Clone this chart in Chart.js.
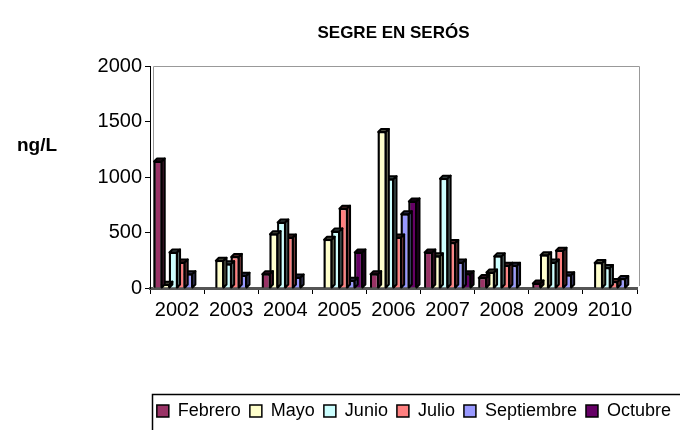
<!DOCTYPE html>
<html>
<head>
<meta charset="utf-8">
<script src="https://cdn.jsdelivr.net/npm/chart.js@4/dist/chart.umd.min.js"></script>
<style>
    html, body { margin: 0; padding: 0; background: #fff; }
    #wrap { width: 680px; height: 430px; }
</style>
</head>
<body>
<div id="wrap"><canvas id="segreChart"></canvas></div>
<script>
const years = ['2002', '2003', '2004', '2005', '2006', '2007', '2008', '2009', '2010'];
const febrero = [1140, 0, 125, 0, 125, 320, 90, 40, 5];
const mayo = [30, 245, 485, 435, 1405, 285, 140, 295, 225];
const junio = [320, 215, 590, 510, 980, 985, 285, 230, 180];
const julio = [230, 280, 455, 715, 455, 405, 200, 335, 55];
const septiembre = [125, 110, 95, 65, 665, 230, 200, 115, 80];
const octubre = [0, 0, 0, 320, 780, 125, 0, 0, 0];
const yTicks = [0, 500, 1000, 1500, 2000];

const FONT = "'Liberation Sans', Arial, sans-serif";
const DEPTH = 3;

function shade(hex, f) {
    const n = parseInt(hex.slice(1), 16);
    const r = Math.round(((n >> 16) & 255) * f);
    const g = Math.round(((n >> 8) & 255) * f);
    const b = Math.round((n & 255) * f);
    return 'rgb(' + r + ',' + g + ',' + b + ')';
}

function serie(label, data, color) {
    return {
        label: label,
        data: data,
        backgroundColor: color,
        borderColor: '#000',
        borderWidth: 1.5,
        borderSkipped: 'bottom',
        categoryPercentage: 0.85,
        barPercentage: 1
    };
}

// 3D look: top and side faces after each dataset
const depthPlugin = {
    id: 'depth',
    afterDatasetDraw(chart, args) {
        const ctx = chart.ctx;
        const color = chart.data.datasets[args.index].backgroundColor;
        ctx.save();
        ctx.lineWidth = 2;
        ctx.strokeStyle = '#000';
        ctx.lineJoin = 'round';
        args.meta.data.forEach(bar => {
            const p = bar.getProps(['x', 'y', 'base', 'width'], true);
            if (p.base - p.y < 1) return;
            const l = p.x - p.width / 2, r = p.x + p.width / 2;
            ctx.beginPath();
            ctx.moveTo(l, p.y);
            ctx.lineTo(l + DEPTH, p.y - DEPTH);
            ctx.lineTo(r + DEPTH, p.y - DEPTH);
            ctx.lineTo(r, p.y);
            ctx.closePath();
            ctx.fillStyle = shade(color, 0.3);
            ctx.fill();
            ctx.stroke();
            ctx.beginPath();
            ctx.moveTo(r, p.y);
            ctx.lineTo(r + DEPTH, p.y - DEPTH);
            ctx.lineTo(r + DEPTH, p.base - DEPTH);
            ctx.lineTo(r, p.base);
            ctx.closePath();
            ctx.fillStyle = shade(color, 0.45);
            ctx.fill();
            ctx.stroke();
            // left edge a bit heavier, like the original
            ctx.beginPath();
            ctx.moveTo(l + 0.5, p.base);
            ctx.lineTo(l + 0.5, p.y);
            ctx.stroke();
        });
        ctx.restore();
    }
};

// back wall, titles and legend frame
const framePlugin = {
    id: 'frame',
    beforeDatasetsDraw(chart) {
        const ctx = chart.ctx, a = chart.chartArea;
        ctx.save();
        ctx.strokeStyle = '#999';
        ctx.lineWidth = 1;
        ctx.beginPath();
        ctx.moveTo(a.left + 3.5, a.bottom);
        ctx.lineTo(a.left + 3.5, a.top + 0.5);
        ctx.lineTo(a.right + 2.5, a.top + 0.5);
        ctx.lineTo(a.right + 2.5, a.bottom - 2);
        ctx.stroke();
        ctx.restore();
    },
    afterDraw(chart) {
        const ctx = chart.ctx, a = chart.chartArea;
        ctx.save();
        ctx.fillStyle = '#000';
        ctx.textAlign = 'center';
        ctx.textBaseline = 'middle';
        ctx.font = 'bold 17px ' + FONT;
        ctx.fillText('SEGRE EN SERÓS', (a.left + a.right) / 2, 33);
        ctx.font = 'bold 19px ' + FONT;
        ctx.fillText('ng/L', 37, 146);

        const lg = chart.legend;
        if (lg && lg.legendHitBoxes && lg.legendHitBoxes.length) {
            const x0 = Math.round(lg.legendHitBoxes[0].left) - 4.5;
            const y0 = Math.round(lg.top) + 1.5;
            ctx.strokeStyle = '#000';
            ctx.lineWidth = 1.5;
            ctx.beginPath();
            ctx.moveTo(x0, chart.height);
            ctx.lineTo(x0, y0);
            ctx.lineTo(chart.width, y0);
            ctx.stroke();
        }
        ctx.restore();
    }
};

new Chart(document.getElementById('segreChart'), {
    type: 'bar',
    data: {
        labels: years,
        datasets: [
            serie('Febrero', febrero, '#993366'),
            serie('Mayo', mayo, '#FFFFCC'),
            serie('Junio', junio, '#CCFFFF'),
            serie('Julio', julio, '#FF8080'),
            serie('Septiembre', septiembre, '#9999FF'),
            serie('Octubre', octubre, '#660066')
        ]
    },
    options: {
        responsive: true,
        maintainAspectRatio: false,
        animation: false,
        layout: {
            padding: { top: 66, left: 0, right: 0, bottom: 0 }
        },
        scales: {
            x: {
                ticks: { color: '#000', font: { family: FONT, size: 20 }, padding: 4 },
                grid: { drawOnChartArea: false, tickLength: 6, color: '#000', offset: true },
                border: { color: '#555', width: 3 },
                afterFit(scale) {
                    const lg = scale.chart.legend;
                    scale.height = 430 - 288 - (lg && lg.height ? lg.height : 40);
                }
            },
            y: {
                min: 0,
                max: 2000,
                afterBuildTicks(scale) {
                    scale.ticks = yTicks.map(v => ({ value: v }));
                },
                ticks: {
                    color: '#000',
                    font: { family: FONT, size: 20 },
                    padding: 3,
                    callback: v => String(v)
                },
                grid: { drawOnChartArea: false, tickLength: 5, color: '#000' },
                border: { color: '#000', width: 1 },
                afterFit(scale) { scale.width = 150; }
            },
            yRight: {
                position: 'right',
                display: true,
                grid: { display: false },
                ticks: { display: false },
                border: { display: false },
                afterFit(scale) { scale.width = 43; }
            }
        },
        plugins: {
            legend: {
                position: 'bottom',
                align: 'end',
                labels: {
                    color: '#000',
                    font: { family: FONT, size: 18 },
                    boxWidth: 12,
                    boxHeight: 12,
                    padding: 9
                }
            },
            tooltip: { enabled: false }
        }
    },
    plugins: [depthPlugin, framePlugin]
});
</script>
</body>
</html>
